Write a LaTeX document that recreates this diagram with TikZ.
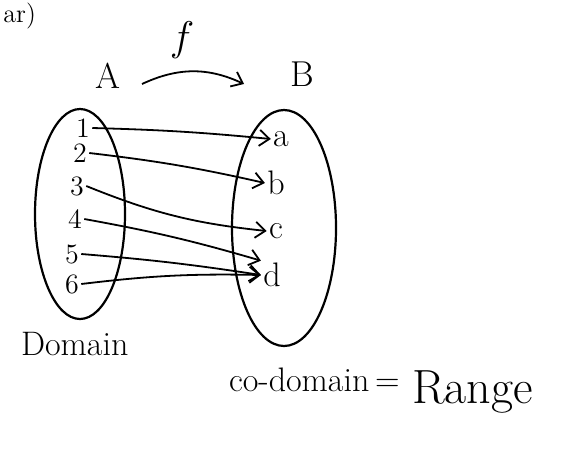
\documentclass[tikz,border=0pt]{standalone}
\usetikzlibrary{arrows.meta,shapes.geometric}
\begin{document}
\begin{tikzpicture}[x=0.5pt,y=-0.5pt,
  ink/.style={draw=black, line width=1.1pt},
  setshape/.style={ellipse, draw=black, line width=1.1pt},
  el/.style={inner sep=1pt, font=\fontsize{14}{14}\selectfont},
  lt/.style={inner sep=1pt, font=\fontsize{17}{17}\selectfont},
  maparrow/.style={draw=black, line width=0.9pt, -{Straight Barb[length=5pt,width=8pt]}}]
\useasboundingbox (0,0) rectangle (565,450);
% partial heading at top edge
\node[anchor=north west, inner sep=0pt, font=\fontsize{13}{13}\selectfont] (head) at (3,3) {ar)};
% labels
\node[font=\fontsize{20}{20}\selectfont] (f) at (182,40) {$f$};
\node[font=\fontsize{18}{18}\selectfont] (A) at (108,76) {A};
\node[font=\fontsize{18}{18}\selectfont] (B) at (302,74) {B};
\coordinate (fs) at (142,84);
\coordinate (fe) at (244,84);
\draw[maparrow] (fs) to[bend left=25] (fe);
% sets
\node[setshape, minimum width=45pt, minimum height=105pt] (setA) at (80,214) {};
\node[setshape, minimum width=52pt, minimum height=118pt] (setB) at (284,228) {};
% elements
\node[el] (n1) at (83,128) {1};
\node[el] (n2) at (80,153) {2};
\node[el] (n3) at (77,186) {3};
\node[el] (n4) at (75,219) {4};
\node[el] (n5) at (72,254) {5};
\node[el] (n6) at (72,284) {6};
\node[lt] (a) at (281,139) {a};
\node[lt] (b) at (276,183) {b};
\node[lt] (c) at (276,231) {c};
\node[lt] (d) at (272,275) {d};
% mapping
\draw[maparrow] (n1.east) to[bend left=2] (a.west);
\draw[maparrow] (n2.east) to[bend left=3] (b.west);
\draw[maparrow] (n3.east) to[bend right=8] (c.west);
\draw[maparrow] (n4.east) to[bend left=3] (d.north west);
\draw[maparrow] (n5.east) to[bend left=2] (d.west);
\draw[maparrow] (n6.east) to[bend left=4] (d.west);
% captions
\node[anchor=west, font=\fontsize{17}{17}\selectfont] (dom) at (14,344) {Domain};
\node[anchor=west, font=\fontsize{17}{17}\selectfont] (cod) at (222,380) {co-domain\,=};
\node[anchor=west, font=\fontsize{24}{24}\selectfont] (rng) at (405,392) {Range};
\end{tikzpicture}
\end{document}
